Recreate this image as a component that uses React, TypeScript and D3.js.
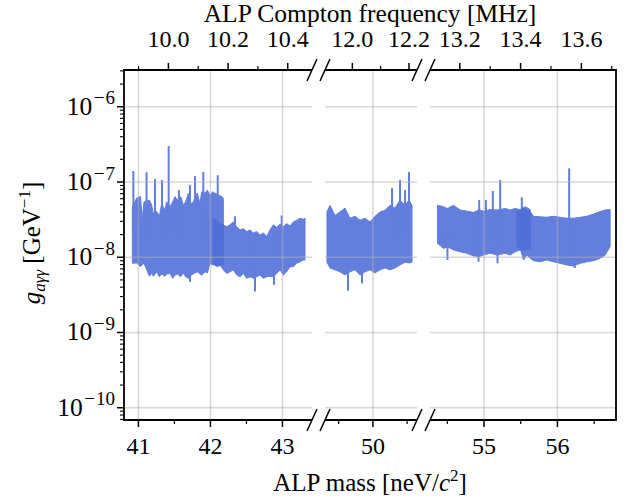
import React from "react";
import * as d3 from "d3";

// ---------- axis / tick data ----------
const FREQ_PER_MASS = 0.24145; // MHz per neV/c^2 used for the top axis
const massMajorTicks = [[41, 42, 43], [50], [55, 56]];
const massMinorTicks = [[41.5, 42.5], [49.5, 50.5], [54.5, 55.5, 56.5]];
const freqMajorTicks = [[10.0, 10.2, 10.4], [12.0, 12.2], [13.2, 13.4, 13.6]];
const freqMinorTicks = [[9.9, 10.1, 10.3], [12.1], [13.3, 13.5, 13.7]];
const gTickExponents = [-10, -9, -8, -7, -6];
const panelMassDomains = [[40.8, 43.41], [49.3, 50.645], [54.264, 56.798]];
const gDomain = [6.87e-11, 3.08e-6];

// ---------- data: panel 1, scan A ----------
const p1aMass = [40.916, 40.976, 41.031, 41.05, 41.078, 41.152, 41.184, 41.207, 41.254, 41.29, 41.323, 41.369, 41.392, 41.439, 41.476, 41.508, 41.54, 41.587, 41.624, 41.656, 41.693, 41.739, 41.772, 41.818, 41.855, 41.878, 41.925, 41.957, 41.994, 42.031, 42.063, 42.11, 42.156, 42.179];
const p1aUpper = [4.7e-8, 6.1e-8, 6.4e-8, 3.1e-8, 5.45e-8, 5.75e-8, 4.95e-8, 3.8e-8, 4.05e-8, 3.5e-8, 5.1e-8, 4.25e-8, 5.45e-8, 4.7e-8, 5.45e-8, 6.4e-8, 5.75e-8, 6.4e-8, 4.95e-8, 5.45e-8, 7.1e-8, 4.95e-8, 5.75e-8, 7.1e-8, 5.2e-8, 7.4e-8, 7.1e-8, 7.8e-8, 6.7e-8, 7.4e-8, 7.1e-8, 6.7e-8, 6.4e-8, 6.1e-8];
const p1aLower = [8.3e-9, 8.4e-9, 7.5e-9, 7.9e-9, 8.3e-9, 5.6e-9, 6.1e-9, 5.6e-9, 6.4e-9, 5.5e-9, 6.0e-9, 5.6e-9, 6.0e-9, 6.1e-9, 5.25e-9, 5.8e-9, 6.0e-9, 5.5e-9, 6.2e-9, 5.5e-9, 5.25e-9, 5.8e-9, 6.1e-9, 6.4e-9, 6.0e-9, 5.8e-9, 6.4e-9, 6.2e-9, 8.3e-9, 7.9e-9, 7.9e-9, 7.7e-9, 7.9e-9, 7.9e-9];
const p1aSpikeMass = [40.93, 41.113, 41.23, 41.327, 41.42, 41.563, 41.716, 41.786, 41.901, 42.101];
const p1aSpikePeak = [1.4e-7, 1.35e-7, 1.1e-7, 1.06e-7, 3.0e-7, 7.8e-8, 9.1e-8, 1.2e-7, 1.36e-7, 1.23e-7];
const p1aDipMass = [41.716];
const p1aDipTrough = [4.7e-9];

// ---------- data: panel 1, scan B ----------
const p1bMass = [42.04, 42.087, 42.133, 42.179, 42.225, 42.272, 42.318, 42.364, 42.41, 42.457, 42.503, 42.549, 42.596, 42.642, 42.688, 42.734, 42.781, 42.827, 42.873, 42.92, 42.966, 43.012, 43.058, 43.105, 43.151, 43.197, 43.243, 43.29, 43.313];
const p1bUpper = [3.3e-8, 3.1e-8, 2.8e-8, 2.7e-8, 2.55e-8, 2.7e-8, 2.95e-8, 2.55e-8, 2.3e-8, 2.4e-8, 2.2e-8, 2.3e-8, 2.1e-8, 2.2e-8, 1.97e-8, 2.1e-8, 1.9e-8, 2.3e-8, 2.7e-8, 2.5e-8, 2.75e-8, 2.55e-8, 2.8e-8, 2.6e-8, 2.95e-8, 3.1e-8, 3.3e-8, 3.2e-8, 3.3e-8];
const p1bLower = [8.3e-9, 7.5e-9, 7.9e-9, 6.8e-9, 6.1e-9, 6.4e-9, 6.8e-9, 5.8e-9, 5.5e-9, 6.1e-9, 5.25e-9, 5.5e-9, 5.25e-9, 5.5e-9, 5.8e-9, 5.25e-9, 5.5e-9, 5.6e-9, 5.5e-9, 6.1e-9, 6.8e-9, 5.8e-9, 6.4e-9, 7.5e-9, 7.5e-9, 8.3e-9, 8.7e-9, 9.2e-9, 9.2e-9];
const p1bSpikeMass = [42.341, 42.989];
const p1bSpikePeak = [3.5e-8, 3.6e-8];
const p1bDipMass = [42.619, 42.882];
const p1bDipTrough = [3.5e-9, 4.3e-9];

// ---------- data: panel 2 ----------
const p2Mass = [49.329, 49.373, 49.446, 49.519, 49.592, 49.666, 49.739, 49.812, 49.885, 49.958, 50.031, 50.104, 50.177, 50.251, 50.324, 50.397, 50.47, 50.528, 50.572];
const p2Upper = [4.0e-8, 4.9e-8, 3.6e-8, 4.0e-8, 4.5e-8, 3.3e-8, 3.5e-8, 3.1e-8, 3.3e-8, 2.95e-8, 3.5e-8, 4.0e-8, 4.2e-8, 4.9e-8, 4.5e-8, 5.75e-8, 4.9e-8, 5.75e-8, 4.9e-8];
const p2Lower = [8.6e-9, 7.2e-9, 6.8e-9, 6.4e-9, 5.8e-9, 6.4e-9, 6.8e-9, 5.8e-9, 6.4e-9, 6.8e-9, 6.2e-9, 6.8e-9, 7.2e-9, 6.8e-9, 7.2e-9, 7.9e-9, 8.6e-9, 8.4e-9, 8.6e-9];
const p2SpikeMass = [50.28, 50.397, 50.47, 50.528];
const p2SpikePeak = [8.3e-8, 1.06e-7, 7.8e-8, 1.36e-7];
const p2DipMass = [49.636, 49.841];
const p2DipTrough = [3.6e-9, 4.5e-9];

// ---------- data: panel 3, scan A ----------
const p3aMass = [54.366, 54.448, 54.502, 54.584, 54.675, 54.766, 54.857, 54.934, 54.993, 55.084, 55.184, 55.288, 55.356, 55.424, 55.492, 55.56, 55.629];
const p3aUpper = [4.9e-8, 4.7e-8, 4.45e-8, 4.9e-8, 4.25e-8, 4.1e-8, 3.95e-8, 4.25e-8, 4.1e-8, 4.3e-8, 4.25e-8, 4.45e-8, 4.25e-8, 4.45e-8, 4.3e-8, 4.7e-8, 4.3e-8];
const p3aLower = [1.53e-8, 1.31e-8, 1.38e-8, 1.25e-8, 1.18e-8, 1.13e-8, 1.04e-8, 1.02e-8, 1.07e-8, 1.13e-8, 1.07e-8, 1.13e-8, 1.07e-8, 1.18e-8, 1.25e-8, 1.25e-8, 1.31e-8];
const p3aSpikeMass = [54.934, 55.025, 55.12, 55.22];
const p3aSpikePeak = [5.75e-8, 5.75e-8, 7.6e-8, 1.06e-7];
const p3aDipMass = [54.502, 54.925, 55.184];
const p3aDipTrough = [9.2e-9, 8.7e-9, 8.3e-9];

// ---------- data: panel 3, scan B ----------
const p3bMass = [55.447, 55.492, 55.538, 55.583, 55.629, 55.674, 55.765, 55.856, 55.946, 56.037, 56.128, 56.219, 56.31, 56.401, 56.491, 56.582, 56.65, 56.718];
const p3bUpper = [4.05e-8, 4.15e-8, 4.45e-8, 4.25e-8, 4.05e-8, 3.5e-8, 3.45e-8, 3.4e-8, 3.5e-8, 3.4e-8, 3.3e-8, 3.3e-8, 3.4e-8, 3.5e-8, 3.75e-8, 4.05e-8, 4.25e-8, 4.3e-8];
const p3bLower = [1.38e-8, 1.31e-8, 9.2e-9, 1.07e-8, 9.7e-9, 9.0e-9, 8.7e-9, 9.2e-9, 8.7e-9, 8.3e-9, 7.9e-9, 7.65e-9, 8.3e-9, 8.7e-9, 9.0e-9, 9.7e-9, 1.07e-8, 1.38e-8];
const p3bSpikeMass = [55.515, 56.16];
const p3bSpikePeak = [6.25e-8, 1.52e-7];
const p3bDipMass = [56.237];
const p3bDipTrough = [7.2e-9];

const segments = [
  { panel: 0, mass: p1aMass, upper: p1aUpper, lower: p1aLower, spikeMass: p1aSpikeMass, spikePeak: p1aSpikePeak, dipMass: p1aDipMass, dipTrough: p1aDipTrough },
  { panel: 0, mass: p1bMass, upper: p1bUpper, lower: p1bLower, spikeMass: p1bSpikeMass, spikePeak: p1bSpikePeak, dipMass: p1bDipMass, dipTrough: p1bDipTrough },
  { panel: 1, mass: p2Mass, upper: p2Upper, lower: p2Lower, spikeMass: p2SpikeMass, spikePeak: p2SpikePeak, dipMass: p2DipMass, dipTrough: p2DipTrough },
  { panel: 2, mass: p3aMass, upper: p3aUpper, lower: p3aLower, spikeMass: p3aSpikeMass, spikePeak: p3aSpikePeak, dipMass: p3aDipMass, dipTrough: p3aDipTrough },
  { panel: 2, mass: p3bMass, upper: p3bUpper, lower: p3bLower, spikeMass: p3bSpikeMass, spikePeak: p3bSpikePeak, dipMass: p3bDipMass, dipTrough: p3bDipTrough },
];

// ---------- layout ----------
const W = 634;
const H = 501;
const TOP = 70;
const BOTTOM = 420;
const panelPx = [[124, 312], [325, 417], [430, 616]];
const SPIKE_BASE = 2e-8;
const BAND = "rgb(78,109,216)";
const FONT = "'Liberation Serif', 'Times New Roman', serif";

export default function App() {
  const xs = panelMassDomains.map((d, i) => d3.scaleLinear().domain(d).range(panelPx[i]));
  const y = d3.scaleLog().domain(gDomain).range([BOTTOM, TOP]);

  const minorY: number[] = [];
  for (let e = -11; e <= -6; e++) {
    for (let k = 2; k <= 9; k++) {
      const v = k * Math.pow(10, e);
      if (v > gDomain[0] && v < gDomain[1]) minorY.push(v);
    }
  }

  const inDom = (i: number, m: number) => m >= panelMassDomains[i][0] && m <= panelMassDomains[i][1];

  return (
    <svg width={W} height={H} style={{ position: "absolute", left: 0, top: 0, background: "#fff" }} fontFamily={FONT}>
      {/* data */}
      {segments.map((s, si) => {
        const x = xs[s.panel];
        const idx = d3.range(s.mass.length);
        const area = d3
          .area<number>()
          .x((i) => x(s.mass[i]))
          .y0((i) => y(s.lower[i]))
          .y1((i) => y(s.upper[i]));
        return (
          <g key={si} opacity={0.88}>
            <path d={area(idx) || ""} fill={BAND} stroke={BAND} strokeWidth={1} />
            {s.spikeMass.map((m, j) => (
              <line key={"s" + j} x1={x(m)} x2={x(m)} y1={y(SPIKE_BASE)} y2={y(s.spikePeak[j])} stroke={BAND} strokeWidth={2} />
            ))}
            {s.dipMass.map((m, j) => (
              <line key={"d" + j} x1={x(m)} x2={x(m)} y1={y(SPIKE_BASE)} y2={y(s.dipTrough[j])} stroke={BAND} strokeWidth={2} />
            ))}
          </g>
        );
      })}

      {/* grid */}
      <g stroke="#b0b0b0" strokeOpacity={0.5} strokeWidth={1.5}>
        {panelPx.map((r, i) =>
          gTickExponents.map((e) => (
            <line key={`gh${i}${e}`} x1={r[0]} x2={r[1]} y1={y(Math.pow(10, e))} y2={y(Math.pow(10, e))} />
          ))
        )}
        {massMajorTicks.map((ts, i) =>
          ts.map((t) => <line key={`gv${i}${t}`} x1={xs[i](t)} x2={xs[i](t)} y1={TOP} y2={BOTTOM} />)
        )}
      </g>

      {/* spines */}
      <g stroke="#000" strokeWidth={1.8} fill="none">
        {panelPx.map((r, i) => (
          <g key={"sp" + i}>
            <line x1={r[0]} x2={r[1]} y1={TOP} y2={TOP} />
            <line x1={r[0]} x2={r[1]} y1={BOTTOM} y2={BOTTOM} />
          </g>
        ))}
        <line x1={panelPx[0][0]} x2={panelPx[0][0]} y1={TOP} y2={BOTTOM} strokeLinecap="square" />
        <line x1={panelPx[2][1]} x2={panelPx[2][1]} y1={TOP} y2={BOTTOM} strokeLinecap="square" />
      </g>

      {/* break marks */}
      <g stroke="#000" strokeWidth={1.5}>
        {[panelPx[0][1], panelPx[1][0], panelPx[1][1], panelPx[2][0]].map((bx, i) =>
          [TOP, BOTTOM].map((by) => (
            <line key={`br${i}${by}`} x1={bx - 5} y1={by + 11} x2={bx + 5} y2={by - 11} />
          ))
        )}
      </g>

      {/* ticks */}
      <g stroke="#000">
        {massMajorTicks.map((ts, i) =>
          ts.map((t) => <line key={`bt${i}${t}`} x1={xs[i](t)} x2={xs[i](t)} y1={BOTTOM} y2={BOTTOM + 7} strokeWidth={1.5} />)
        )}
        {massMinorTicks.map((ts, i) =>
          ts.filter((t) => inDom(i, t)).map((t) => <line key={`bm${i}${t}`} x1={xs[i](t)} x2={xs[i](t)} y1={BOTTOM} y2={BOTTOM + 4} strokeWidth={1.2} />)
        )}
        {freqMajorTicks.map((ts, i) =>
          ts.map((f) => {
            const xx = xs[i](f / FREQ_PER_MASS);
            return <line key={`tt${i}${f}`} x1={xx} x2={xx} y1={TOP} y2={TOP - 7} strokeWidth={1.5} />;
          })
        )}
        {freqMinorTicks.map((ts, i) =>
          ts.filter((f) => inDom(i, f / FREQ_PER_MASS)).map((f) => {
            const xx = xs[i](f / FREQ_PER_MASS);
            return <line key={`tm${i}${f}`} x1={xx} x2={xx} y1={TOP} y2={TOP - 4} strokeWidth={1.2} />;
          })
        )}
        {gTickExponents.map((e) => (
          <line key={`yt${e}`} x1={panelPx[0][0] - 7} x2={panelPx[0][0]} y1={y(Math.pow(10, e))} y2={y(Math.pow(10, e))} strokeWidth={1.5} />
        ))}
        {minorY.map((v, k) => (
          <line key={`ym${k}`} x1={panelPx[0][0] - 4} x2={panelPx[0][0]} y1={y(v)} y2={y(v)} strokeWidth={1.1} />
        ))}
      </g>

      {/* tick labels */}
      <g fontSize={24} fill="#000">
        {massMajorTicks.map((ts, i) =>
          ts.map((t) => (
            <text key={`bl${i}${t}`} x={xs[i](t)} y={454} textAnchor="middle">{String(t)}</text>
          ))
        )}
        {freqMajorTicks.map((ts, i) =>
          ts.map((f) => (
            <text key={`tl${i}${f}`} x={xs[i](f / FREQ_PER_MASS)} y={47} textAnchor="middle">{f.toFixed(1)}</text>
          ))
        )}
        {gTickExponents.map((e) => (
          <text key={`yl${e}`} x={115} y={y(Math.pow(10, e)) + 8} textAnchor="end" fontSize={25.5}>
            10<tspan fontSize={19} dx={1.5} dy={-10.5}>{"\u2212"}</tspan>
            <tspan fontSize={19} dx={1}>{String(Math.abs(e))}</tspan>
          </text>
        ))}
      </g>

      {/* axis labels */}
      <g fontSize={25} fill="#000">
        <text x={370} y={22} textAnchor="middle" fontSize={25.5}>ALP Compton frequency [MHz]</text>
        <text x={370} y={491} textAnchor="middle">
          ALP mass [neV/<tspan fontStyle="italic">c</tspan>
          <tspan fontSize={17} dy={-10}>2</tspan>
          <tspan dy={10}>]</tspan>
        </text>
        <text transform="translate(40,243) rotate(-90)" textAnchor="middle">
          <tspan fontStyle="italic">g</tspan>
          <tspan fontStyle="italic" fontSize={17} dy={5}>{"a\u03b3\u03b3"}</tspan>
          <tspan dy={-5}>{" [GeV"}</tspan>
          <tspan fontSize={17} dy={-10}>{"\u22121"}</tspan>
          <tspan dy={10}>]</tspan>
        </text>
      </g>
    </svg>
  );
}
